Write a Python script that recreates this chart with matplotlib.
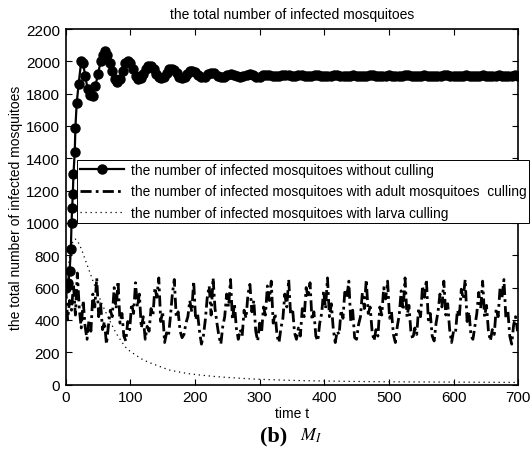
import numpy as np
import matplotlib.pyplot as plt

plt.rcParams['font.family'] = ['Liberation Sans', 'DejaVu Sans']
plt.rcParams['mathtext.fontset'] = 'stix'

# without culling (solid line with markers)
t_none = [0, 2, 4, 6, 8, 9, 10, 11, 12, 14, 15, 17, 20, 24, 27, 30, 34, 38, 42, 46,
          50, 54, 58, 61, 64, 68, 72, 76, 80, 84, 88, 92, 96, 100, 104, 108, 112, 116, 120, 124,
          128, 132, 136, 140, 144, 148, 152, 156, 160, 164, 168, 172, 176, 180, 184, 188, 192, 196, 200,
          205, 210, 215, 220, 225, 230, 235, 240, 245, 250, 255, 260, 265, 270, 275, 280, 285, 290, 295, 300,
          305, 310, 315, 320, 325, 330, 335, 340, 345, 350, 355, 360, 365, 370, 375, 380, 385, 390, 395, 400,
          405, 410, 415, 420, 425, 430, 435, 440, 445, 450, 455, 460, 465, 470, 475, 480, 485, 490, 495, 500,
          505, 510, 515, 520, 525, 530, 535, 540, 545, 550, 555, 560, 565, 570, 575, 580, 585, 590, 595, 600,
          605, 610, 615, 620, 625, 630, 635, 640, 645, 650, 655, 660, 665, 670, 675, 680, 685, 690, 695, 700]
m_none = [600, 610, 630, 700, 840, 1000, 1090, 1180, 1300, 1440, 1590, 1740, 1860, 2000, 1990, 1910, 1830, 1790, 1785, 1850,
          1920, 2000, 2040, 2065, 2040, 1990, 1940, 1890, 1875, 1890, 1940, 1990, 2005, 1990, 1950, 1910, 1890, 1895, 1920, 1950,
          1970, 1970, 1950, 1920, 1900, 1895, 1905, 1930, 1950, 1955, 1945, 1925, 1905, 1898, 1902, 1920, 1938, 1942, 1935,
          1915, 1903, 1905, 1920, 1930, 1926, 1912, 1903, 1906, 1918, 1924, 1918, 1908, 1904, 1910, 1918, 1920, 1913, 1906, 1906,
          1913, 1918, 1916, 1910, 1907, 1909, 1914, 1916, 1913, 1909, 1911, 1913, 1914, 1912, 1910, 1911, 1913, 1913, 1912, 1911,
          1911, 1912, 1913, 1913, 1912, 1911, 1911, 1912, 1913, 1912, 1912, 1911, 1912, 1913, 1913, 1912, 1911, 1912, 1912, 1913,
          1912, 1912, 1911, 1912, 1913, 1913, 1912, 1912, 1911, 1912, 1913, 1912, 1912, 1912, 1911, 1912, 1913, 1913, 1912, 1912,
          1912, 1911, 1912, 1913, 1912, 1912, 1912, 1912, 1913, 1912, 1912, 1911, 1912, 1913, 1912, 1912, 1912, 1912, 1913, 1912]

# adult mosquito culling (dash-dot), sampled every 3 time units
t_adult = np.arange(0, 700, 3)
m_adult = [600, 400, 520, 460, 620, 430, 690, 470, 350, 520,
           360, 280, 400, 330, 560, 480, 660, 420, 500, 340,
           390, 250, 360, 460, 420, 600, 470, 640, 380, 440,
           300, 270, 390, 340, 500, 440, 630, 480, 560, 350,
           420, 280, 360, 330, 470, 430, 600, 540, 660, 390,
           450, 260, 320, 300, 420, 560, 650, 420, 450, 330,
           290, 310, 380, 420, 520, 450, 640, 400, 440, 330,
           250, 300, 400, 540, 610, 430, 660, 470, 380, 300,
           250, 360, 420, 560, 480, 650, 400, 500, 350, 280,
           340, 300, 460, 410, 560, 620, 450, 520, 330, 270,
           380, 320, 480, 430, 610, 520, 640, 380, 440, 300,
           260, 350, 410, 560, 480, 650, 430, 470, 320, 280,
           350, 300, 470, 420, 600, 540, 630, 400, 450, 300,
           270, 380, 440, 580, 470, 660, 420, 500, 340, 260,
           330, 310, 460, 410, 590, 540, 640, 390, 460, 290,
           280, 370, 420, 570, 470, 650, 440, 480, 330, 270,
           340, 300, 480, 430, 600, 530, 640, 410, 450, 310,
           260, 360, 430, 580, 460, 660, 420, 490, 330, 280,
           350, 310, 470, 420, 610, 540, 650, 400, 440, 300,
           270, 380, 450, 560, 480, 640, 430, 500, 340, 260,
           330, 320, 460, 420, 590, 530, 650, 390, 450, 300,
           280, 360, 440, 570, 470, 640, 420, 490, 330, 270,
           340, 310, 470, 420, 600, 540, 650, 410, 460, 300,
           250, 370, 420, 330]

# larva culling (dotted)
t_larva = [0, 3, 6, 9, 12, 15, 18, 22, 26, 30, 35, 40, 45, 50, 55, 60, 65, 70, 75, 80,
           85, 90, 95, 100, 110, 120, 130, 140, 150, 160, 175, 190, 210, 230, 250, 270, 290, 310, 340, 370,
           400, 450, 500, 550, 600, 650, 700]
m_larva = [600, 700, 790, 860, 895, 900, 890, 860, 820, 775, 720, 665, 610, 560, 510, 465, 420, 380, 340, 305,
           275, 245, 220, 205, 178, 152, 135, 120, 105, 90, 78, 67, 58, 50, 44, 39, 34, 31, 27, 24,
           22, 19, 17, 16, 15, 14, 13]

labels = ['the number of infected mosquitoes without culling',
          'the number of infected mosquitoes with adult mosquitoes  culling',
          'the number of infected mosquitoes with larva culling']

fig = plt.figure(figsize=(5.32, 4.52), dpi=100)
ax = fig.add_axes([0.1235, 0.147, 0.8505, 0.7866])

ax.plot(t_none, m_none, '-', color='black', lw=1.6, marker='o', ms=6.5, label=labels[0], zorder=3)
ax.plot(t_adult, m_adult, color='black', lw=2.0, linestyle=(0, (4, 1.5, 1, 1.5)), label=labels[1])
ax.plot(t_larva, m_larva, color='black', lw=0.9, linestyle=(0, (1, 3)), label=labels[2])

ax.set_xlim(0, 700)
ax.set_ylim(0, 2200)
ax.set_xticks(range(0, 701, 100))
ax.set_yticks(range(0, 2201, 200))
ax.tick_params(direction='in', top=True, right=True, labelsize=11, length=4, width=0.8, pad=4)
for s in ax.spines.values():
    s.set_linewidth(1.2)

ax.set_title('the total number of infected mosquitoes', fontsize=10, pad=8)
ax.set_xlabel('time t', fontsize=10, labelpad=1)
ax.set_ylabel('the total number of infected mosquitoes', fontsize=10, labelpad=2)

leg = ax.legend(loc='upper left', bbox_to_anchor=(77 / 532, 1 - 161 / 452), bbox_transform=fig.transFigure,
                fontsize=9.9, fancybox=False, framealpha=1, edgecolor='black', handlelength=3.2,
                labelspacing=0.55, borderpad=0.2, handletextpad=0.5, borderaxespad=0)
leg.get_frame().set_linewidth(0.7)
leg.set_zorder(5)

fig.text(287 / 532, 1 - 436 / 452, '(b)', fontsize=16, fontweight='bold', family='Liberation Serif',
         ha='right', va='center')
fig.text(300 / 532, 1 - 436 / 452, r'$M_I$', fontsize=13, ha='left', va='center')

fig.savefig('out.png', dpi=100)
